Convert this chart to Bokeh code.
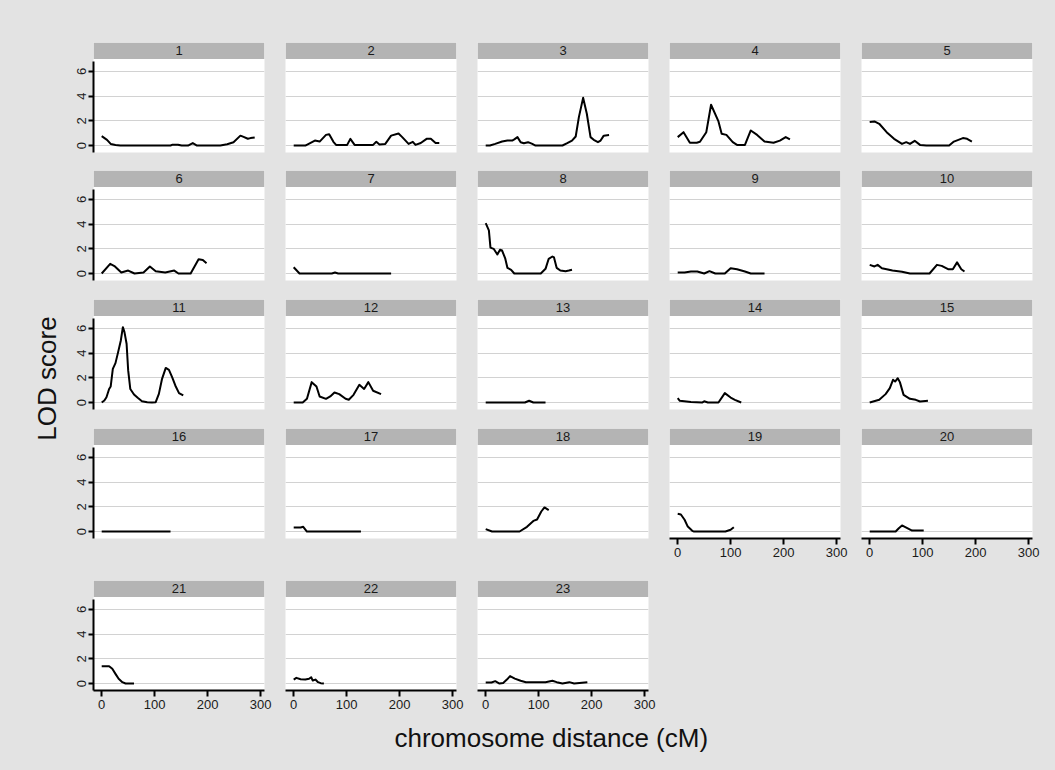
import math
from bokeh.plotting import figure
from bokeh.models import BoxAnnotation, Label, LinearAxis, FixedTicker, Range1d
from bokeh.layouts import row, column
from bokeh.embed import file_html
from bokeh.resources import INLINE

# ---------------- data (chromosome distance in cM, LOD score) ----------------
CM_1 = [0, 10, 17, 26, 35, 130, 134, 144, 151, 163, 172, 180, 224, 237, 249, 262, 268, 276, 281, 289]
LOD_1 = [0.76, 0.46, 0.13, 0.05, 0, 0, 0.07, 0.07, 0, 0, 0.2, 0, 0, 0.1, 0.27, 0.8, 0.7, 0.55, 0.6, 0.65]
CM_2 = [0, 22, 40, 49, 61, 67, 75, 80, 101, 107, 115, 150, 156, 162, 173, 184, 198, 205, 217, 225, 230, 240, 251, 259, 268, 275]
LOD_2 = [0, 0, 0.4, 0.32, 0.86, 0.92, 0.3, 0.05, 0.05, 0.54, 0.05, 0.05, 0.3, 0.08, 0.13, 0.8, 0.97, 0.68, 0.13, 0.3, 0.05, 0.2, 0.54, 0.54, 0.2, 0.2]
CM_3 = [0, 8, 18, 31, 41, 50, 54, 60, 66, 72, 80, 88, 94, 145, 154, 163, 170, 176, 184, 191, 198, 204, 212, 217, 223, 233]
LOD_3 = [0, 0, 0.13, 0.32, 0.4, 0.4, 0.5, 0.68, 0.27, 0.19, 0.27, 0.13, 0, 0, 0.19, 0.4, 0.73, 2.3, 3.86, 2.57, 0.68, 0.46, 0.27, 0.4, 0.8, 0.85]
CM_4 = [0, 11, 23, 36, 42, 54, 63, 77, 83, 92, 104, 112, 127, 138, 150, 164, 181, 193, 204, 212]
LOD_4 = [0.68, 1.08, 0.22, 0.22, 0.3, 1.08, 3.3, 1.95, 0.95, 0.86, 0.27, 0.05, 0.05, 1.22, 0.86, 0.32, 0.22, 0.4, 0.68, 0.49]
CM_5 = [0, 9, 18, 32, 46, 61, 69, 76, 85, 95, 107, 150, 159, 176, 184, 193]
LOD_5 = [1.9, 1.95, 1.76, 1.08, 0.54, 0.13, 0.27, 0.13, 0.38, 0.05, 0, 0, 0.32, 0.6, 0.54, 0.32]
CM_6 = [0, 16, 25, 37, 50, 62, 79, 91, 102, 120, 137, 145, 168, 183, 191, 198]
LOD_6 = [0, 0.78, 0.57, 0.08, 0.24, 0, 0.08, 0.57, 0.19, 0.08, 0.24, 0, 0, 1.16, 1.1, 0.84]
CM_7 = [0, 11, 72, 78, 84, 184]
LOD_7 = [0.51, 0, 0, 0.08, 0, 0]
CM_8 = [0, 6, 9, 15, 22, 27, 31, 37, 41, 48, 54, 104, 113, 119, 126, 129, 134, 141, 151, 157, 163]
LOD_8 = [4.08, 3.5, 2.1, 2.0, 1.54, 1.92, 1.86, 1.2, 0.46, 0.3, 0, 0, 0.38, 1.19, 1.38, 1.3, 0.46, 0.24, 0.19, 0.24, 0.3]
CM_9 = [0, 13, 25, 37, 50, 60, 71, 89, 100, 112, 127, 138, 164]
LOD_9 = [0.08, 0.08, 0.16, 0.16, 0, 0.19, 0, 0, 0.43, 0.35, 0.16, 0, 0]
CM_10 = [0, 9, 15, 23, 32, 43, 61, 76, 113, 127, 136, 148, 157, 165, 173, 179]
LOD_10 = [0.7, 0.57, 0.7, 0.43, 0.35, 0.24, 0.14, 0, 0, 0.7, 0.62, 0.35, 0.35, 0.9, 0.35, 0.16]
CM_11 = [0, 5, 9, 14, 17, 21, 26, 31, 36, 40, 43, 47, 50, 54, 61, 68, 76, 86, 95, 102, 108, 114, 121, 127, 133, 139, 146, 154]
LOD_11 = [0, 0.16, 0.43, 1.1, 1.3, 2.73, 3.19, 4.08, 5.0, 6.1, 5.7, 4.76, 2.6, 1.1, 0.65, 0.38, 0.11, 0.03, 0, 0.03, 0.7, 1.92, 2.8, 2.65, 2.05, 1.38, 0.76, 0.57]
CM_12 = [0, 17, 25, 34, 43, 49, 61, 69, 77, 86, 98, 104, 113, 124, 133, 141, 150, 165]
LOD_12 = [0, 0, 0.3, 1.65, 1.3, 0.49, 0.3, 0.49, 0.81, 0.68, 0.3, 0.22, 0.62, 1.43, 1.1, 1.65, 0.95, 0.68]
CM_13 = [0, 74, 82, 90, 113]
LOD_13 = [0, 0, 0.14, 0, 0]
CM_14 = [0, 4, 25, 46, 50, 57, 77, 89, 100, 108, 120]
LOD_14 = [0.35, 0.14, 0.05, 0, 0.1, 0, 0, 0.76, 0.4, 0.22, 0]
CM_15 = [0, 18, 30, 38, 44, 48, 53, 57, 64, 76, 87, 95, 110]
LOD_15 = [0, 0.22, 0.68, 1.16, 1.84, 1.7, 1.97, 1.65, 0.62, 0.3, 0.22, 0.08, 0.14]
CM_16 = [0, 130]
LOD_16 = [0, 0]
CM_17 = [0, 13, 18, 25, 127]
LOD_17 = [0.32, 0.32, 0.38, 0, 0]
CM_18 = [0, 12, 64, 78, 90, 97, 105, 111, 119]
LOD_18 = [0.19, 0, 0, 0.38, 0.86, 0.97, 1.62, 1.95, 1.73]
CM_19 = [0, 6, 13, 19, 27, 30, 90, 100, 106]
LOD_19 = [1.43, 1.38, 0.95, 0.4, 0.08, 0, 0, 0.14, 0.35]
CM_20 = [0, 49, 55, 61, 70, 80, 102]
LOD_20 = [0, 0, 0.27, 0.49, 0.3, 0.08, 0.08]
CM_21 = [0, 14, 20, 26, 32, 39, 45, 61]
LOD_21 = [1.4, 1.4, 1.19, 0.78, 0.38, 0.11, 0, 0]
CM_22 = [0, 5, 13, 22, 29, 33, 36, 41, 46, 51, 57]
LOD_22 = [0.32, 0.46, 0.35, 0.32, 0.38, 0.51, 0.24, 0.32, 0.11, 0.03, 0]
CM_23 = [0, 11, 18, 26, 33, 40, 46, 55, 66, 76, 113, 126, 134, 145, 158, 167, 192]
LOD_23 = [0.08, 0.08, 0.19, 0, 0.05, 0.32, 0.6, 0.4, 0.22, 0.11, 0.11, 0.22, 0.11, 0, 0.11, 0, 0.11]

CHROMOSOMES = [str(i) for i in range(1, 24)]
X_TICKS = [0, 100, 200, 300]
Y_TICKS = [0, 2, 4, 6]
Y_LABEL = "LOD score"
X_LABEL = "chromosome distance (cM)"

SERIES = {
    "1": (CM_1, LOD_1), "2": (CM_2, LOD_2), "3": (CM_3, LOD_3), "4": (CM_4, LOD_4),
    "5": (CM_5, LOD_5), "6": (CM_6, LOD_6), "7": (CM_7, LOD_7), "8": (CM_8, LOD_8),
    "9": (CM_9, LOD_9), "10": (CM_10, LOD_10), "11": (CM_11, LOD_11), "12": (CM_12, LOD_12),
    "13": (CM_13, LOD_13), "14": (CM_14, LOD_14), "15": (CM_15, LOD_15), "16": (CM_16, LOD_16),
    "17": (CM_17, LOD_17), "18": (CM_18, LOD_18), "19": (CM_19, LOD_19), "20": (CM_20, LOD_20),
    "21": (CM_21, LOD_21), "22": (CM_22, LOD_22), "23": (CM_23, LOD_23),
}

# ---------------- style / layout ----------------
BG = "#e3e3e3"
STRIP = "#b4b4b4"
FONT = "Liberation Sans"
FW, FH = 171, 110
XR = (-15.5, 307.5)
YR = (-0.565, 8.34)
STRIP_BOTTOM = 7.0

COL_BORDERS = [(33, 10), (11, 10), (11, 10), (11, 10), (11, 23)]
ROW_BORDERS = [(42, 8), (10, 9), (10, 9), (10, 32), (10, 30)]
NCOL = 5
X_AXIS_PANELS = {"19", "20", "21", "22", "23"}


def base_fig(c, r):
    lb, rb = COL_BORDERS[c]
    tb, bb = ROW_BORDERS[r]
    p = figure(frame_width=FW, frame_height=FH,
               x_range=Range1d(*XR), y_range=Range1d(*YR),
               x_axis_location=None, y_axis_location=None,
               output_backend="svg", toolbar_location=None,
               min_border_left=lb, min_border_right=rb,
               min_border_top=tb, min_border_bottom=bb)
    p.border_fill_color = BG
    p.outline_line_color = None
    return p


def make_panel(name, c, r):
    p = base_fig(c, r)
    p.background_fill_color = "white"
    p.xgrid.visible = False
    p.ygrid.ticker = FixedTicker(ticks=Y_TICKS)
    p.ygrid.grid_line_color = "#d2d2d2"
    p.ygrid.grid_line_width = 1

    strip = BoxAnnotation(bottom=STRIP_BOTTOM, fill_color=STRIP, fill_alpha=1.0,
                          line_color=None, level="underlay")
    p.add_layout(strip)
    p.add_layout(Label(x=(XR[0] + XR[1]) / 2, y=(STRIP_BOTTOM + YR[1]) / 2, text=name,
                       text_align="center", text_baseline="middle",
                       text_font=FONT, text_font_size="13px", text_color="#1a1a1a"))

    xs, ys = SERIES[name]
    p.line(xs, ys, line_color="black", line_width=2, line_join="round")

    if c == 0:
        ax = LinearAxis(ticker=FixedTicker(ticks=Y_TICKS), bounds=(-0.6, 6.8))
        ax.axis_line_width = 2
        ax.major_tick_line_width = 2
        ax.major_tick_out = 5
        ax.major_tick_in = 0
        ax.minor_tick_out = 0
        ax.minor_tick_in = 0
        ax.major_label_orientation = "vertical"
        ax.major_label_standoff = 2
        ax.major_label_text_font = FONT
        ax.major_label_text_font_size = "13px"
        ax.major_label_text_color = "#1a1a1a"
        p.add_layout(ax, "left")
    if name in X_AXIS_PANELS:
        ax = LinearAxis(ticker=FixedTicker(ticks=X_TICKS))
        ax.axis_line_width = 2
        ax.major_tick_line_width = 2
        ax.major_tick_out = 6
        ax.major_tick_in = 0
        ax.minor_tick_out = 0
        ax.minor_tick_in = 0
        ax.major_label_standoff = 3
        ax.major_label_text_font = FONT
        ax.major_label_text_font_size = "13px"
        ax.major_label_text_color = "#1a1a1a"
        p.add_layout(ax, "below")
    return p


def empty_cell(c, r):
    p = base_fig(c, r)
    p.background_fill_color = BG
    p.grid.visible = False
    return p


rows = []
for r in range(5):
    figs = []
    for c in range(NCOL):
        idx = r * NCOL + c
        if idx < len(CHROMOSOMES):
            figs.append(make_panel(CHROMOSOMES[idx], c, r))
        else:
            figs.append(empty_cell(c, r))
    rows.append(row(*figs, spacing=0))
grid = column(*rows, spacing=0)

GRID_H = sum(FH + t + b for t, b in ROW_BORDERS)

# y-axis title column
ylab = figure(frame_width=60, frame_height=GRID_H, x_range=Range1d(0, 60), y_range=Range1d(0, GRID_H),
              x_axis_location=None, y_axis_location=None, output_backend="svg", toolbar_location=None,
              min_border=0)
ylab.background_fill_color = BG
ylab.border_fill_color = BG
ylab.outline_line_color = None
ylab.grid.visible = False
ylab.add_layout(Label(x=46, y=GRID_H - 378, text=Y_LABEL, angle=math.pi / 2,
                      text_align="center", text_baseline="middle",
                      text_font=FONT, text_font_size="26px", text_color="#111111"))

# x-axis title row
XL_H = 770 - GRID_H
xlab = figure(frame_width=1055, frame_height=XL_H, x_range=Range1d(0, 1055), y_range=Range1d(0, XL_H),
              x_axis_location=None, y_axis_location=None, output_backend="svg", toolbar_location=None,
              min_border=0)
xlab.background_fill_color = BG
xlab.border_fill_color = BG
xlab.outline_line_color = None
xlab.grid.visible = False
xlab.add_layout(Label(x=394, y=XL_H - 17, text=X_LABEL,
                      text_align="left", text_baseline="middle",
                      text_font=FONT, text_font_size="26px", text_color="#111111"))

root = column(row(ylab, grid, spacing=0), xlab, spacing=0,
              styles={"background-color": BG})

open("out.html", "w").write(file_html(root, INLINE))
